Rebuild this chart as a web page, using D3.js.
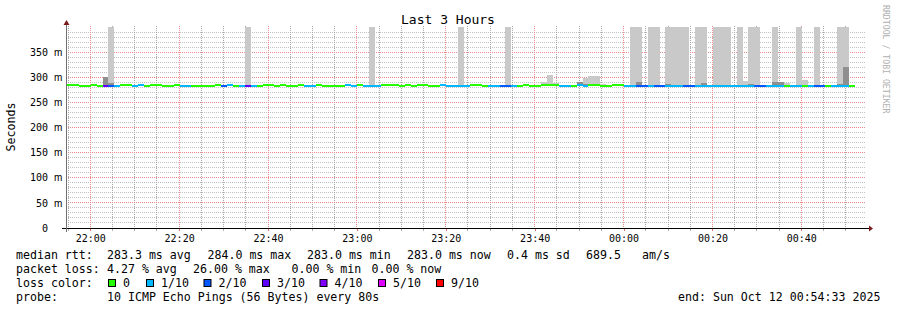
<!DOCTYPE html>
<html>
<head>
<meta charset="utf-8">
<script src="https://cdn.jsdelivr.net/npm/d3@7"></script>
<style>
    body { margin: 0; background: #fff; }
    svg { display: block; font-family: "DejaVu Sans Mono", monospace; }
</style>
</head>
<body>
<script>
const width = 897;
const height = 310;

let margin = {top: 27, right: 31, bottom: 82, left: 66};

// graph window and probe settings
const graphStart = new Date(2025, 9, 11, 21, 54, 33);
const graphEnd = new Date(2025, 9, 12, 0, 54, 33);
const firstStep = new Date(2025, 9, 11, 21, 54, 46);
const stepSeconds = 80;

// number of lost pings (out of 10) for every 80s step
const loss = [
    0, 0, 0, 0, 0, 0, 3, 2, 1, 0,
    0, 1, 1, 0, 0, 0, 0, 0, 0, 1,
    1, 0, 0, 0, 0, 0, 2, 1, 0, 1,
    3, 1, 0, 0, 0, 0, 0, 0, 0, 0,
    1, 1, 0, 0, 0, 0, 0, 1, 1, 0,
    1, 1, 1, 0, 0, 0, 0, 0, 0, 0,
    0, 0, 0, 1, 1, 1, 1, 1, 0, 0,
    0, 1, 1, 2, 2, 1, 0, 0, 0, 0,
    0, 0, 0, 1, 1, 0, 1, 1, 0, 0,
    0, 0, 0, 0, 1, 1, 2, 2, 1, 2,
    2, 1, 1, 1, 2, 2, 1, 1, 1, 1,
    1, 1, 1, 1, 1, 1, 2, 2, 1, 1,
    1, 0, 1, 1, 0, 1, 2, 2, 0, 1,
    1, 1, 0
];

// median rtt in ms
const median = [
    284, 284, 283, 283, 284, 283, 283, 283, 283, 284,
    284, 283, 284, 283, 284, 284, 283, 283, 284, 283,
    283, 283, 283, 283, 283, 284, 283, 284, 283, 283,
    283, 283, 283, 284, 284, 283, 284, 283, 283, 284,
    283, 283, 284, 283, 283, 283, 283, 284, 283, 284,
    283, 283, 283, 284, 284, 284, 283, 284, 283, 284,
    284, 283, 283, 284, 283, 283, 283, 283, 284, 284,
    283, 283, 283, 283, 283, 283, 283, 284, 283, 283,
    284, 284, 284, 283, 283, 283, 284, 283, 284, 284,
    283, 283, 284, 284, 283, 283, 283, 283, 283, 283,
    283, 283, 283, 283, 283, 283, 283, 283, 283, 283,
    283, 283, 283, 283, 283, 283, 283, 283, 283, 283,
    283, 283, 283, 283, 283, 283, 283, 283, 283, 283,
    283, 283, 283
];

// highest ping of the step (light smoke), ms
const smokeMax = [
    null, null, null, null, null, null, null, 450, null, null,
    null, null, null, null, null, null, null, null, null, null,
    null, null, null, null, null, null, null, null, null, null,
    450, null, null, null, null, null, null, null, null, null,
    null, null, null, null, null, null, null, null, null, null,
    null, 450, null, null, null, null, null, null, null, null,
    null, null, null, null, null, null, 450, null, null, null,
    null, null, null, null, 450, null, null, null, null, null,
    290, 304, 288, null, null, null, null, 298, 302, 302,
    287, null, null, null, null, 450, 450, null, 450, 450,
    null, 450, 450, 450, 450, null, 450, 450, null, 450,
    450, 450, null, 450, 292, 450, 450, null, null, 450,
    null, 288, null, 450, 294, null, 450, null, null, null,
    450, 450, null
];

// upper ping of the denser smoke near the median, ms
const smokeDark = [
    null, null, null, null, null, null, 300, 288, null, null,
    null, null, null, null, null, null, null, null, null, null,
    null, null, null, null, null, null, null, null, null, null,
    null, null, null, null, null, null, null, null, null, null,
    null, null, null, null, null, null, null, null, null, null,
    null, null, null, null, null, null, null, null, null, null,
    null, null, null, null, null, null, null, null, null, null,
    null, null, null, null, null, null, null, null, null, null,
    null, null, null, null, null, null, 290, 287, null, null,
    null, null, null, null, null, null, 290, null, null, null,
    null, 287, null, null, null, null, null, 288, null, null,
    null, null, null, null, null, 287, null, null, null, 290,
    290, null, null, null, null, null, null, null, null, null,
    287, 320, null
];

const lossLevels = [0, 1, 2, 3, 4, 5, 9];
const lossLabels = ["0", "1/10", "2/10", "3/10", "4/10", "5/10", "9/10"];
const lossColors = ["#26ff00", "#00b8ff", "#0059ff", "#5e00ff", "#7e00ff", "#dd00ff", "#ff0000"];

const yTicks = [0, 50, 100, 150, 200, 250, 300, 350];

const legendLines = [
    {label: "median rtt:", items: [
        ["283.3 ms avg", 107], ["284.0 ms max", 207.5], ["283.0 ms min", 307],
        ["283.0 ms now", 407], ["0.4 ms sd", 507], ["689.5", 586], ["am/s", 642]]},
    {label: "packet loss:", items: [
        ["4.27 % avg", 107], ["26.00 % max", 193], ["0.00 % min", 291.5], ["0.00 % now", 371.5]]},
    {label: "loss color:", items: []},
    {label: "probe:", items: [["10 ICMP Echo Pings (56 Bytes) every 80s", 107]]}
];
const lossBoxX = [108, 146, 203.5, 262, 319.5, 378, 436];

let svg = d3.select("body")
    .append("svg")
    .attr("width", width)
    .attr("height", height);

svg.append("rect").attr("width", width).attr("height", height).attr("fill", "#fff");

let x = d3.scaleTime()
    .domain([graphStart, graphEnd])
    .range([margin.left, width - margin.right]);

let y = d3.scaleLinear()
    .domain([0, 400])
    .range([height - margin.bottom, margin.top]);

let crisp = v => Math.floor(v) + 0.5;

// steps
let steps = median.map((m, i) => {
    let t0 = new Date(firstStep.getTime() + i * stepSeconds * 1000);
    let t1 = new Date(t0.getTime() + stepSeconds * 1000);
    return {t0, t1, median: m, loss: loss[i], max: smokeMax[i], dark: smokeDark[i]};
});

function lossColor(n) {
    let idx = 0;
    lossLevels.forEach((l, i) => { if (n >= l) idx = i; });
    return lossColors[idx];
}

///////////////
// Grid      //
///////////////
let minorY = d3.range(10, 400, 10).filter(v => v % 50 !== 0);
let minorX = d3.timeMinute.every(5).range(graphStart, graphEnd)
    .filter(d => d.getMinutes() % 20 !== 0);
let majorX = d3.timeMinute.every(20).range(graphStart, graphEnd);

let plotTop = Math.round(y(400)) - 2;
let plotBottom = Math.round(y(0));
let plotWidth = x.range()[1] - x.range()[0];

// dotted grid lines as 1px rects filled with a 1-on/1-off pattern
let defs = svg.append("defs");
function dots(id, color, w, h) {
    let p = defs.append("pattern").attr("id", id)
        .attr("patternUnits", "userSpaceOnUse").attr("width", w).attr("height", h);
    p.append("rect").attr("width", 1).attr("height", 1).attr("fill", color);
}
dots("v-minor", "#a6a6a6", 1, 2);
dots("h-minor", "#c2c2c2", 2, 1);
dots("v-major", "#ee8c8c", 1, 2);
dots("h-major", "#ee8c8c", 2, 1);

let grid = svg.append("g").attr("shape-rendering", "crispEdges");

function vGrid(values, name) {
    grid.append("g").selectAll("rect")
        .data(values)
        .join("rect")
        .attr("x", d => Math.floor(x(d)))
        .attr("y", plotTop)
        .attr("width", 1)
        .attr("height", plotBottom - plotTop)
        .attr("fill", `url(#v-${name})`);
}

function hGrid(values, name) {
    grid.append("g").selectAll("rect")
        .data(values)
        .join("rect")
        .attr("x", x.range()[0])
        .attr("y", d => Math.floor(y(d)))
        .attr("width", plotWidth)
        .attr("height", 1)
        .attr("fill", `url(#h-${name})`);
}

hGrid(minorY, "minor");
vGrid(minorX, "minor");
vGrid(majorX, "major");
hGrid(yTicks.filter(d => d > 0), "major");

///////////////
// Smoke     //
///////////////
svg.append("clipPath").attr("id", "plot")
    .append("rect")
    .attr("x", x.range()[0]).attr("y", y(400))
    .attr("width", plotWidth).attr("height", y(0) - y(400));

let smoke = svg.append("g").attr("clip-path", "url(#plot)").attr("shape-rendering", "crispEdges");

smoke.selectAll(".light")
    .data(steps.filter(d => d.max !== null))
    .join("rect")
    .attr("x", d => Math.round(x(d.t0)))
    .attr("width", d => Math.round(x(d.t1)) - Math.round(x(d.t0)))
    .attr("y", d => Math.round(y(d.max)))
    .attr("height", d => Math.round(y(d.median)) - Math.round(y(d.max)))
    .attr("fill", "#c9c9c9");

smoke.selectAll(".dark")
    .data(steps.filter(d => d.dark !== null))
    .join("rect")
    .attr("x", d => Math.round(x(d.t0)))
    .attr("width", d => Math.round(x(d.t1)) - Math.round(x(d.t0)))
    .attr("y", d => Math.round(y(d.dark)))
    .attr("height", d => Math.round(y(d.median)) - Math.round(y(d.dark)))
    .attr("fill", "#8f8f8f");

///////////////
// Median    //
///////////////
smoke.selectAll(".median")
    .data(steps)
    .join("rect")
    .attr("x", d => Math.round(x(d.t0)))
    .attr("width", d => Math.round(x(d.t1)) - Math.round(x(d.t0)))
    .attr("y", d => Math.round(y(d.median)) - 1)
    .attr("height", 2)
    .attr("fill", d => lossColor(d.loss));

///////////////
// Axes      //
///////////////
let arrowColor = "#7a1a1a";

let bottomAxis = svg.append("g")
    .attr("transform", `translate(0, ${y(0)})`)
    .call(d3.axisBottom(x)
        .tickValues(majorX)
        .tickFormat(d3.timeFormat("%H:%M"))
        .tickSize(3)
        .tickPadding(4));
bottomAxis.select(".domain").remove();
bottomAxis.selectAll("line").attr("stroke", "#e07070").attr("shape-rendering", "crispEdges");
bottomAxis.selectAll("text").attr("font-size", 10).attr("font-family", "DejaVu Sans Mono").attr("fill", "#000");

svg.append("g").selectAll("rect")
    .data(minorX)
    .join("rect")
    .attr("x", d => Math.floor(x(d)))
    .attr("y", plotBottom)
    .attr("width", 1)
    .attr("height", 3)
    .attr("fill", "#b0b0b0");

let leftAxis = svg.append("g")
    .attr("transform", `translate(${margin.left}, 0)`)
    .call(d3.axisLeft(y)
        .tickValues(yTicks)
        .tickSize(0)
        .tickPadding(18)
        .tickFormat(d => d));
leftAxis.select(".domain").remove();
leftAxis.selectAll("text").attr("font-size", 10).attr("font-family", "DejaVu Sans Mono").attr("fill", "#000");
leftAxis.selectAll(".tick")
    .filter(d => d > 0)
    .append("text")
    .attr("x", -12)
    .attr("dy", "0.32em")
    .attr("text-anchor", "start")
    .attr("font-size", 10)
    .attr("fill", "#000")
    .text("m");

// axis lines with arrows
svg.append("line")
    .attr("x1", margin.left - 4).attr("x2", width - margin.right + 3)
    .attr("y1", crisp(y(0))).attr("y2", crisp(y(0)))
    .attr("stroke", "#000").attr("shape-rendering", "crispEdges");
svg.append("line")
    .attr("x1", crisp(margin.left)).attr("x2", crisp(margin.left))
    .attr("y1", y(0) + 4).attr("y2", y(400) - 2)
    .attr("stroke", "#707070").attr("shape-rendering", "crispEdges");

let ax = width - margin.right + 3, ay = crisp(y(0));
svg.append("path")
    .attr("d", `M${ax},${ay - 3}L${ax + 4},${ay}L${ax},${ay + 3}Z`)
    .attr("fill", arrowColor);
let bx = crisp(margin.left), by = y(400) - 2;
svg.append("path")
    .attr("d", `M${bx - 3},${by}L${bx},${by - 5}L${bx + 3},${by}Z`)
    .attr("fill", arrowColor);

///////////////
// Texts     //
///////////////
svg.append("text")
    .attr("x", 448).attr("y", 24)
    .attr("text-anchor", "middle")
    .attr("font-size", 13)
    .text("Last 3 Hours");

svg.append("text")
    .attr("transform", "translate(15, 127) rotate(-90)")
    .attr("text-anchor", "middle")
    .attr("font-size", 11.6)
    .text("Seconds");

svg.append("text")
    .attr("transform", "translate(883, 5) rotate(90)")
    .attr("font-size", 8.2)
    .attr("fill", "#b0b0b0")
    .text("RRDTOOL / TOBI OETIKER");

let legend = svg.append("g").attr("font-size", 11.6).attr("fill", "#000");
legendLines.forEach((line, i) => {
    let ly = 258.5 + i * 14;
    legend.append("text").attr("x", 16).attr("y", ly).text(line.label);
    line.items.forEach(([t, lx]) => {
        legend.append("text").attr("x", lx).attr("y", ly).text(t);
    });
});

lossLabels.forEach((l, i) => {
    legend.append("rect")
        .attr("x", lossBoxX[i] + 0.5).attr("y", 279.5)
        .attr("width", 7).attr("height", 7)
        .attr("fill", lossColors[i])
        .attr("stroke", "#000");
    legend.append("text")
        .attr("x", lossBoxX[i] + 15).attr("y", 258.5 + 2 * 14)
        .text(l);
});

legend.append("text")
    .attr("x", 678).attr("y", 258.5 + 3 * 14)
    .text("end: Sun Oct 12 00:54:33 2025");
</script>
</body>
</html>
